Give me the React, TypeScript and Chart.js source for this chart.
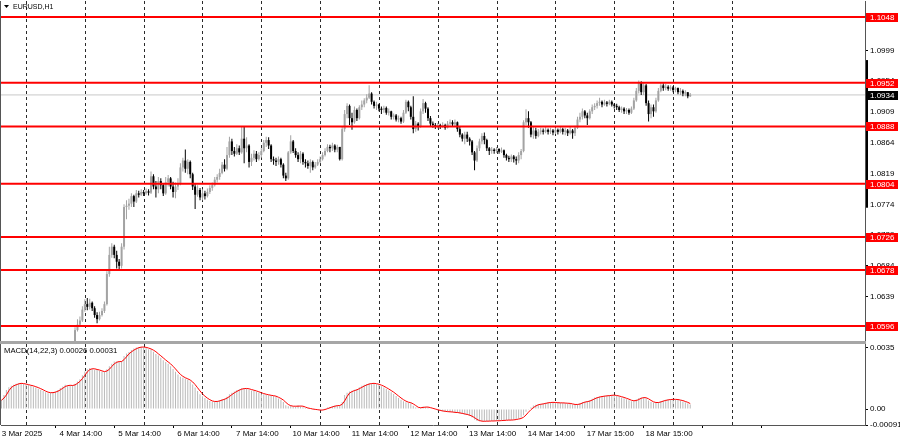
import React, { useEffect, useRef } from "react";
import { Chart, registerables } from "chart.js";

Chart.register(...registerables);

// H1 bars, bar index 0 = 3 Mar 2025 00:00
// candle prices: price = 1 + v / 10000
const candleStartBar = 34;
const firstOpen = 560;
const closes = [
  590, 598, 604, 620, 628, 624, 630, 622, 612, 606,
  612, 618, 628, 672, 700, 712, 700, 690, 684, 712,
  770, 772, 775, 786, 778, 790, 788, 792, 790, 793,
  791, 815, 800, 796, 808, 802, 790, 806, 812, 800,
  792, 800, 805, 828, 838, 826, 836, 818, 800, 788,
  795, 784, 790, 786, 792, 798, 802, 810, 814, 820,
  832, 826, 846, 866, 852, 848, 856, 850, 870, 856,
  860, 836, 842, 848, 840, 846, 852, 864, 868, 860,
  840, 838, 836, 840, 832, 816, 812, 850, 866, 852,
  846, 840, 848, 836, 834, 830, 836, 828, 832, 836,
  840, 846, 852, 858, 856, 860, 854, 858, 840, 884,
  906, 918, 900, 894, 912, 900, 916, 920, 926, 930,
  936, 924, 918, 920, 914, 912, 915, 908, 910, 902,
  904, 898, 900, 895, 908, 924, 916, 902, 884, 892,
  888, 910, 922, 914, 900, 892, 890, 887, 890, 888,
  890, 886, 892, 894, 891, 894, 884, 876, 870, 876,
  870, 866, 850, 838, 856, 866, 874, 868, 856, 852,
  854, 852, 855, 851, 853, 846, 842, 840, 844, 840,
  838, 846, 852, 894, 900, 894, 876, 882, 874, 880,
  882, 880, 883, 880, 882, 879, 883, 880, 884, 880,
  882, 878, 882, 878, 886, 898, 902, 910, 904, 900,
  910, 916, 918, 922, 924, 920, 923, 921, 924, 920,
  918, 916, 912, 914, 910, 912, 908, 914, 926, 940,
  952, 938, 948, 922, 906, 916, 910, 926, 940, 948,
  944, 946, 943, 945, 941, 944, 938, 940, 936, 938,
  932, 934,
];
const highs = [
  594, 606, 610, 625, 635, 637, 636, 632, 625, 616,
  617, 622, 632, 676, 712, 717, 715, 706, 694, 717,
  774, 780, 782, 790, 788, 795, 794, 796, 795, 797,
  796, 822, 818, 808, 814, 812, 805, 814, 817, 814,
  807, 806, 812, 834, 842, 854, 840, 838, 820, 805,
  802, 798, 796, 794, 797, 802, 806, 814, 818, 826,
  836, 840, 858, 873, 870, 858, 862, 860, 888, 887,
  872, 862, 848, 853, 852, 850, 856, 868, 873, 872,
  862, 844, 842, 844, 842, 834, 820, 852, 875, 868,
  856, 850, 852, 850, 840, 838, 840, 838, 836, 840,
  844, 850, 856, 862, 861, 864, 862, 861, 858, 888,
  912, 922, 920, 908, 917, 914, 919, 926, 929, 935,
  948, 938, 926, 924, 921, 917, 918, 917, 914, 911,
  907, 906, 904, 902, 912, 927, 926, 918, 932, 896,
  894, 914, 928, 924, 916, 903, 895, 893, 893, 892,
  894, 892, 896, 898, 897, 898, 895, 887, 878, 880,
  880, 872, 868, 852, 860, 870, 878, 879, 870, 858,
  858, 856, 858, 856, 857, 854, 848, 845, 847, 846,
  844, 850, 855, 897, 913, 910, 896, 888, 886, 884,
  886, 885, 887, 885, 886, 884, 886, 885, 888, 886,
  886, 884, 887, 884, 889, 902, 908, 914, 912, 908,
  913, 920, 922, 926, 930, 926, 927, 925, 927, 926,
  922, 921, 918, 917, 916, 915, 914, 917, 930, 944,
  955, 954, 953, 950, 926, 920, 920, 930, 944, 952,
  951, 950, 948, 948, 947, 946, 945, 944, 942, 941,
  938, 937,
];
const lows = [
  556, 588, 596, 602, 617, 619, 620, 618, 608, 600,
  604, 610, 615, 626, 668, 696, 695, 680, 679, 680,
  708, 752, 766, 770, 770, 776, 784, 786, 786, 788,
  787, 789, 796, 784, 790, 796, 786, 788, 800, 796,
  784, 783, 795, 802, 822, 820, 818, 812, 795, 767,
  785, 780, 780, 781, 784, 789, 794, 800, 806, 810,
  818, 822, 824, 842, 846, 844, 846, 846, 848, 834,
  850, 828, 830, 838, 836, 838, 842, 850, 858, 855,
  836, 832, 830, 832, 828, 812, 808, 810, 848, 849,
  842, 836, 834, 832, 828, 826, 820, 824, 826, 830,
  834, 838, 844, 850, 850, 852, 850, 850, 838, 838,
  880, 900, 890, 883, 892, 896, 898, 912, 916, 922,
  928, 920, 914, 912, 910, 906, 908, 905, 904, 898,
  898, 895, 894, 892, 893, 906, 910, 898, 878, 880,
  882, 886, 906, 908, 896, 888, 886, 884, 885, 884,
  886, 883, 885, 889, 887, 888, 880, 872, 866, 862,
  865, 860, 846, 824, 836, 852, 862, 862, 852, 846,
  848, 848, 849, 848, 849, 842, 838, 836, 836, 835,
  832, 834, 840, 850, 890, 886, 872, 870, 870, 872,
  876, 876, 878, 876, 877, 875, 877, 876, 878, 876,
  875, 874, 876, 870, 874, 884, 894, 898, 900, 890,
  898, 906, 912, 914, 918, 916, 918, 917, 919, 917,
  914, 912, 909, 908, 906, 906, 905, 906, 912, 924,
  936, 934, 934, 918, 895, 900, 902, 908, 924, 938,
  940, 941, 940, 940, 938, 938, 935, 934, 932, 932,
  929, 931,
];

// MACD(14,22,3): value = v / 100000
const macdStartBar = 4;
const macdMain = [
  52, 80, 108, 124, 133, 138, 144, 147, 146, 142,
  138, 136, 132, 128, 122, 116, 109, 102, 96, 90,
  92, 96, 99, 108, 119, 128, 138, 134, 132, 136,
  144, 157, 170, 192, 214, 226, 233, 229, 225, 222,
  218, 212, 210, 226, 243, 258, 271, 270, 268, 273,
  302, 316, 324, 336, 344, 350, 352, 354, 352, 348,
  340, 338, 326, 313, 304, 292, 278, 268, 258, 244,
  228, 212, 196, 184, 178, 172, 166, 156, 140, 122,
  102, 84, 72, 62, 52, 45, 42, 42, 46, 50,
  56, 60, 70, 84, 92, 100, 108, 113, 118, 118,
  116, 110, 106, 104, 98, 92, 88, 84, 80, 78,
  76, 74, 68, 60, 52, 40, 22, 16, 20, 13,
  14, 22, 16, 10, 6, 2, 0, -2, -5, -6,
  -6, -5, 2, 8, 12, 16, 20, 22, 18, 40,
  80, 92, 100, 104, 110, 114, 124, 132, 138, 142,
  147, 147, 145, 141, 137, 130, 122, 114, 106, 96,
  86, 74, 62, 52, 44, 38, 36, 33, 18, 8,
  4, 8, 14, 12, 8, 4, 0, -4, -9, -11,
  -13, -15, -16, -17, -19, -20, -22, -25, -28, -31,
  -34, -40, -48, -60, -68, -70, -70, -69, -69, -68,
  -68, -67, -67, -66, -65, -64, -63, -63, -62, -60,
  -57, -54, -50, -36, -15, -4, 8, 20, 24, 27,
  29, 32, 35, 38, 38, 37, 36, 35, 35, 34,
  33, 32, 30, 26, 23, 28, 34, 40, 42, 44,
  50, 58, 65, 68, 71, 73, 75, 76, 78, 80,
  78, 74, 71, 66, 61, 56, 50, 44, 46, 55,
  62, 65, 67, 60, 48, 40, 36, 34, 40, 46,
  49, 52, 54, 56, 56, 54, 52, 48, 43, 38,
  32, 26,
];
const macdSignal = [
  50, 62, 80, 104, 122, 132, 138, 143, 146, 145,
  142, 139, 135, 132, 127, 122, 116, 109, 102, 96,
  93, 93, 96, 101, 109, 118, 128, 133, 135, 134,
  137, 146, 157, 173, 192, 211, 224, 229, 229, 225,
  222, 217, 213, 216, 226, 242, 257, 266, 270, 270,
  281, 297, 314, 325, 335, 343, 349, 352, 353, 351,
  347, 342, 335, 326, 314, 303, 291, 279, 268, 257,
  243, 228, 212, 197, 186, 178, 172, 165, 154, 139,
  121, 103, 86, 73, 62, 53, 46, 43, 43, 46,
  51, 55, 62, 71, 82, 92, 100, 107, 113, 116,
  117, 115, 111, 107, 103, 98, 93, 88, 84, 81,
  78, 76, 73, 67, 60, 51, 38, 26, 19, 16,
  16, 16, 17, 16, 11, 6, 3, 0, -2, -4,
  -6, -6, -3, 2, 7, 12, 16, 19, 20, 27,
  46, 71, 91, 99, 105, 109, 116, 123, 131, 137,
  142, 145, 146, 144, 141, 136, 130, 122, 114, 105,
  96, 85, 74, 63, 53, 45, 39, 36, 29, 20,
  10, 7, 9, 11, 11, 8, 4, 0, -4, -8,
  -11, -13, -15, -16, -17, -19, -20, -22, -25, -28,
  -31, -35, -41, -49, -59, -66, -69, -70, -69, -69,
  -68, -68, -67, -67, -66, -65, -64, -63, -63, -62,
  -60, -57, -54, -47, -34, -18, -4, 8, 17, 24,
  27, 29, 32, 35, 37, 38, 37, 36, 35, 35,
  34, 33, 32, 29, 26, 26, 28, 34, 39, 42,
  45, 51, 58, 64, 68, 71, 73, 75, 76, 78,
  79, 77, 74, 70, 66, 61, 56, 50, 47, 48,
  54, 61, 65, 64, 58, 49, 41, 37, 37, 40,
  45, 49, 52, 54, 55, 55, 54, 51, 48, 43,
  38, 31,
];

const levelPrices = [1.1048, 1.0952, 1.0888, 1.0804, 1.0726, 1.0678, 1.0596];
const levelLabels = ["1.1048", "1.0952", "1.0888", "1.0804", "1.0726", "1.0678", "1.0596"];
const bidPrice = 1.0934;
const bidLabel = "1.0934";
const rangeMark = [1.0769, 1.0985];
const priceTicks = [1.0594, 1.0639, 1.0684, 1.0729, 1.0774, 1.0819, 1.0864, 1.0909, 1.0954, 1.0999, 1.1044];
const priceTickLabels = ["1.0594", "1.0639", "1.0684", "1.0729", "1.0774", "1.0819", "1.0864", "1.0909", "1.0954", "1.0999", "1.1044"];
const gridBars = [14, 38, 62, 86, 110, 134, 158, 182, 206, 230, 254, 278, 302];
const timeLabels = [
  "3 Mar 2025", "4 Mar 14:00", "5 Mar 14:00", "6 Mar 14:00", "7 Mar 14:00",
  "10 Mar 14:00", "11 Mar 14:00", "12 Mar 14:00", "13 Mar 14:00", "14 Mar 14:00",
  "17 Mar 15:00", "18 Mar 15:00", "",
];
const macdTicks = [-0.00091, 0, 0.0035];
const macdTickLabels = ["-0.00091", "0.00", "0.0035"];
const symbolTitle = "EURUSD,H1";
const macdTitle = "MACD(14,22,3) 0.00026 0.00031";

const X_MIN = 3.8;
const X_MAX = 356.3;
const Y_MIN = 1.057404;
const Y_MAX = 1.107141;
const M_MIN = -0.00091;
const M_MAX = 0.0037;

const FONT = "'Liberation Sans', Arial, sans-serif";
const BULL = "#a3a3a3";
const BEAR = "#000000";

const px = (v: number) => 1 + v / 10000;

function drawGrid(chart: any) {
  const { ctx, chartArea, scales } = chart;
  const xs = scales.x;
  ctx.save();
  ctx.strokeStyle = "#2a2a2a";
  ctx.lineWidth = 1;
  ctx.setLineDash([3, 3]);
  gridBars.forEach((b) => {
    const x = Math.round(xs.getPixelForValue(b)) + 0.5;
    ctx.beginPath();
    ctx.moveTo(x, chartArea.top);
    ctx.lineTo(x, chartArea.bottom);
    ctx.stroke();
  });
  ctx.setLineDash([]);
  ctx.strokeStyle = "#555";
  ctx.beginPath();
  ctx.moveTo(0.5, chartArea.top);
  ctx.lineTo(0.5, chartArea.bottom);
  ctx.stroke();
  ctx.restore();
}

function tagBox(ctx: any, x: number, y: number, text: string, bg: string) {
  const yy = Math.round(y);
  ctx.fillStyle = bg;
  ctx.fillRect(x, yy - 4, 32, 9);
  ctx.fillStyle = "#ffffff";
  ctx.fillText(text, x + 4, yy + 0.5);
}

const noPad = (s: any) => {
  s.paddingTop = 0;
  s.paddingBottom = 0;
  s.paddingLeft = 0;
  s.paddingRight = 0;
};

const mainDecor = {
  id: "mainDecor",
  beforeDatasetsDraw(chart: any) {
    drawGrid(chart);
  },
  afterDraw(chart: any) {
    const { ctx, chartArea, scales } = chart;
    const ys = scales.y;
    ctx.save();
    const yTop = ys.getPixelForValue(rangeMark[1]);
    const yBot = ys.getPixelForValue(rangeMark[0]);
    ctx.fillStyle = "#000";
    ctx.fillRect(chartArea.right + 1, yTop, 2, yBot - yTop);
    ctx.font = `8px ${FONT}`;
    ctx.textBaseline = "middle";
    ctx.textAlign = "left";
    levelPrices.forEach((p, k) => {
      tagBox(ctx, chartArea.right + 1, ys.getPixelForValue(p), levelLabels[k], "#ff0000");
    });
    tagBox(ctx, chartArea.right + 1, ys.getPixelForValue(bidPrice), bidLabel, "#000000");
    ctx.fillStyle = "#000";
    ctx.beginPath();
    ctx.moveTo(4, 5);
    ctx.lineTo(9, 5);
    ctx.lineTo(6.5, 8);
    ctx.closePath();
    ctx.fill();
    ctx.font = `7px ${FONT}`;
    ctx.fillText(symbolTitle, 13, 7.5);
    ctx.restore();
  },
};

const macdDecor = {
  id: "macdDecor",
  beforeDatasetsDraw(chart: any) {
    drawGrid(chart);
  },
  afterDraw(chart: any) {
    const { ctx, chartArea } = chart;
    ctx.save();
    ctx.font = `7.7px ${FONT}`;
    ctx.fillStyle = "#000";
    ctx.textBaseline = "middle";
    ctx.textAlign = "left";
    ctx.fillText(macdTitle, 4, chartArea.top + 6.5);
    ctx.restore();
  },
};

export default function App() {
  const mainRef = useRef<HTMLCanvasElement | null>(null);
  const macdRef = useRef<HTMLCanvasElement | null>(null);

  useEffect(() => {
    document.body.style.margin = "0";
    const opens = closes.map((c, k) => (k === 0 ? firstOpen : closes[k - 1]));
    const colors = closes.map((c, k) => (c >= opens[k] ? BULL : BEAR));
    const bodies = closes.map((c, k) => ({
      x: candleStartBar + k,
      y: [px(Math.min(opens[k], c)), px(Math.max(opens[k], c))],
    }));
    const wicks = closes.map((c, k) => ({
      x: candleStartBar + k,
      y: [px(lows[k]), px(highs[k])],
    }));

    const levelSets = levelPrices.map((p) => ({
      type: "line" as const,
      data: [
        { x: X_MIN, y: p },
        { x: X_MAX, y: p },
      ],
      borderColor: "#ff0000",
      borderWidth: 2,
      pointRadius: 0,
      order: 0,
    }));

    const main = new Chart(mainRef.current as HTMLCanvasElement, {
      type: "bar",
      data: {
        datasets: [
          {
            type: "line",
            data: [
              { x: X_MIN, y: bidPrice },
              { x: X_MAX, y: bidPrice },
            ],
            borderColor: "#c8c8c8",
            borderWidth: 1,
            pointRadius: 0,
            order: 10,
          } as any,
          {
            type: "bar",
            data: wicks as any,
            backgroundColor: colors,
            barThickness: 1,
            maxBarThickness: 1,
            grouped: false,
            inflateAmount: 0,
            minBarLength: 1,
            order: 5,
          } as any,
          {
            type: "bar",
            data: bodies as any,
            backgroundColor: colors,
            barThickness: 2,
            maxBarThickness: 2,
            grouped: false,
            inflateAmount: 0,
            minBarLength: 1,
            order: 4,
          } as any,
          ...(levelSets as any[]),
        ],
      },
      options: {
        animation: false,
        responsive: false,
        maintainAspectRatio: false,
        events: [],
        layout: { padding: { left: 1, top: 1, right: 0, bottom: 1 } },
        plugins: { legend: { display: false }, tooltip: { enabled: false } },
        scales: {
          x: { type: "linear", min: X_MIN, max: X_MAX, display: false, offset: false },
          y: {
            type: "linear",
            position: "right",
            min: Y_MIN,
            max: Y_MAX,
            beginAtZero: false,
            afterBuildTicks: (s: any) => {
              s.ticks = priceTicks.map((v) => ({ value: v }));
            },
            afterFit: (s: any) => {
              s.width = 35;
              noPad(s);
            },
            ticks: {
              autoSkip: false,
              padding: 2,
              color: "#000",
              font: { family: FONT, size: 8 },
              callback: (_v: any, i: number) => priceTickLabels[i],
            },
            grid: { drawOnChartArea: false, drawTicks: true, tickLength: 3, color: "#000" },
            border: { display: true, color: "#555" },
          },
        },
      } as any,
      plugins: [mainDecor],
    });

    const macd = new Chart(macdRef.current as HTMLCanvasElement, {
      type: "bar",
      data: {
        datasets: [
          {
            type: "line",
            data: macdSignal.map((v, k) => ({ x: macdStartBar + k, y: v / 100000 })),
            borderColor: "#ff0000",
            borderWidth: 1,
            pointRadius: 0,
            order: 0,
          } as any,
          {
            type: "bar",
            data: macdMain.map((v, k) => ({ x: macdStartBar + k, y: v / 100000 })) as any,
            backgroundColor: "#b9b9b9",
            barThickness: 1,
            maxBarThickness: 1,
            grouped: false,
            inflateAmount: 0,
            order: 1,
          } as any,
        ],
      },
      options: {
        animation: false,
        responsive: false,
        maintainAspectRatio: false,
        events: [],
        layout: { padding: { left: 1, top: 0, right: 0, bottom: 0 } },
        plugins: { legend: { display: false }, tooltip: { enabled: false } },
        scales: {
          x: {
            type: "linear",
            min: X_MIN,
            max: X_MAX,
            offset: false,
            position: "bottom",
            afterBuildTicks: (s: any) => {
              s.ticks = gridBars.map((v) => ({ value: v }));
            },
            afterFit: (s: any) => {
              s.height = 16;
              noPad(s);
            },
            ticks: {
              autoSkip: false,
              maxRotation: 0,
              minRotation: 0,
              padding: 1,
              labelOffset: -4,
              color: "#000",
              font: { family: FONT, size: 8 },
              callback: (_v: any, i: number) => timeLabels[i] ?? "",
            },
            grid: { drawOnChartArea: false, drawTicks: true, tickLength: 3, color: "#000" },
            border: { display: true, color: "#555" },
          },
          y: {
            type: "linear",
            position: "right",
            min: M_MIN,
            max: M_MAX,
            beginAtZero: false,
            afterBuildTicks: (s: any) => {
              s.ticks = macdTicks.map((v) => ({ value: v }));
            },
            afterFit: (s: any) => {
              s.width = 35;
              noPad(s);
            },
            ticks: {
              autoSkip: false,
              padding: 2,
              color: "#000",
              font: { family: FONT, size: 8 },
              callback: (_v: any, i: number) => macdTickLabels[i],
            },
            grid: { drawOnChartArea: false, drawTicks: true, tickLength: 3, color: "#000" },
            border: { display: true, color: "#555" },
          },
        },
      } as any,
      plugins: [macdDecor],
    });

    return () => {
      main.destroy();
      macd.destroy();
    };
  }, []);

  return (
    <div
      style={{
        position: "fixed",
        left: 0,
        top: 0,
        width: 900,
        height: 441,
        background: "#ffffff",
        overflow: "hidden",
      }}
    >
      <canvas
        ref={mainRef}
        width={900}
        height={342}
        style={{ position: "absolute", left: 0, top: 0, width: 900, height: 342 }}
      />
      <div
        style={{
          position: "absolute",
          left: 0,
          top: 341,
          width: 866,
          height: 3,
          background: "#a6a6a6",
        }}
      />
      <canvas
        ref={macdRef}
        width={900}
        height={97}
        style={{ position: "absolute", left: 0, top: 344, width: 900, height: 97 }}
      />
    </div>
  );
}
